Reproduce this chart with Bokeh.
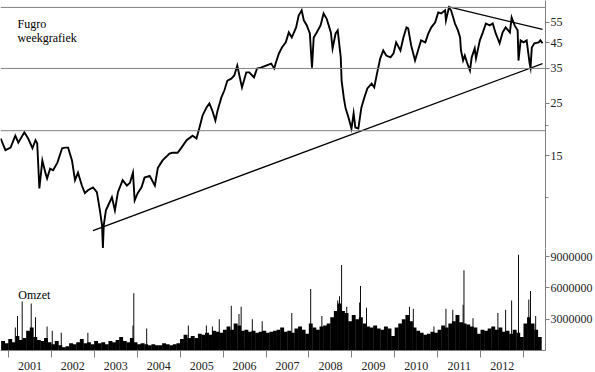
from bokeh.plotting import figure
from bokeh.layouts import column
from bokeh.models import Range1d, FixedTicker, Span, Label, PrintfTickFormatter, CustomJSTickFormatter
from bokeh.embed import file_html
from bokeh.resources import INLINE

# ---- data ----
price_t = [2000.82, 2000.93, 2001.05, 2001.16, 2001.23, 2001.37, 2001.46, 2001.56, 2001.63, 2001.67,
           2001.72, 2001.79, 2001.86, 2001.90, 2001.97, 2002.04, 2002.14, 2002.25, 2002.32, 2002.39,
           2002.48, 2002.55, 2002.62, 2002.71, 2002.78, 2002.85, 2002.97, 2003.06, 2003.13, 2003.18,
           2003.20, 2003.22, 2003.27, 2003.32, 2003.41, 2003.48, 2003.55, 2003.66, 2003.76, 2003.83,
           2003.90, 2003.94, 2004.01, 2004.10, 2004.17, 2004.29, 2004.41, 2004.48, 2004.59, 2004.75,
           2004.82, 2004.94, 2005.03, 2005.15, 2005.29, 2005.38, 2005.45, 2005.52, 2005.61, 2005.68,
           2005.75, 2005.82, 2005.87, 2005.96, 2006.03, 2006.10, 2006.19, 2006.26, 2006.33, 2006.42,
           2006.44, 2006.54, 2006.61, 2006.72, 2006.79, 2006.88, 2007.00, 2007.12, 2007.19, 2007.23,
           2007.30, 2007.37, 2007.46, 2007.53, 2007.60, 2007.70, 2007.76, 2007.83, 2007.88, 2007.95,
           2008.02, 2008.07, 2008.11, 2008.18, 2008.27, 2008.34, 2008.41, 2008.51, 2008.55, 2008.62,
           2008.67, 2008.74, 2008.76, 2008.81, 2008.85, 2008.92, 2008.99, 2009.04, 2009.08, 2009.15,
           2009.22, 2009.29, 2009.36, 2009.46, 2009.52, 2009.59, 2009.66, 2009.73, 2009.80, 2009.90,
           2009.97, 2010.03, 2010.13, 2010.20, 2010.27, 2010.31, 2010.38, 2010.47, 2010.54, 2010.61,
           2010.71, 2010.78, 2010.85, 2010.94, 2011.01, 2011.08, 2011.17, 2011.19, 2011.26, 2011.31,
           2011.40, 2011.47, 2011.52, 2011.54, 2011.59, 2011.63, 2011.68, 2011.75, 2011.79, 2011.86,
           2011.89, 2011.98, 2012.05, 2012.12, 2012.21, 2012.28, 2012.35, 2012.44, 2012.51, 2012.58,
           2012.68, 2012.72, 2012.79, 2012.86, 2012.88, 2012.93, 2013.00, 2013.07, 2013.14, 2013.16,
           2013.19, 2013.25, 2013.35, 2013.39, 2013.44]
price = [17.7, 15.8, 16.2, 18.2, 17.0, 18.8, 17.7, 16.1, 17.4, 16.9,
         10.9, 14.3, 12.7, 12.0, 13.2, 13.0, 14.0, 16.1, 16.2, 16.2,
         14.3, 11.8, 12.7, 11.2, 10.4, 10.7, 11.0, 10.5, 8.8, 7.6,
         6.1, 7.6, 8.8, 9.2, 10.0, 8.8, 10.5, 11.8, 11.2, 11.5,
         12.7, 9.7, 10.4, 11.0, 12.1, 12.3, 11.2, 13.3, 14.3, 15.3,
         15.4, 15.4, 16.2, 17.4, 18.2, 17.7, 19.7, 22.1, 23.9, 24.9,
         23.2, 21.1, 23.2, 26.4, 28.3, 31.1, 31.7, 32.7, 36.0, 30.2,
         29.1, 33.7, 33.7, 32.1, 35.0, 35.3, 36.0, 36.7, 35.0, 37.1,
         40.5, 42.9, 45.1, 49.7, 47.3, 52.2, 58.6, 61.6, 55.9, 53.2,
         49.2, 35.3, 47.3, 49.7, 53.2, 59.8, 56.9, 49.7, 42.5, 49.2,
         50.7, 39.0, 31.1, 26.4, 23.9, 21.7, 19.5, 22.6, 19.7, 19.5,
         23.9, 26.4, 28.8, 30.2, 29.1, 33.7, 38.6, 41.7, 39.7, 39.0,
         40.5, 45.1, 41.7, 47.3, 52.2, 51.7, 43.8, 37.8, 41.7, 46.0,
         45.1, 49.2, 52.2, 54.8, 60.4, 59.8, 61.6, 55.9, 63.4, 61.6,
         54.2, 50.7, 47.3, 41.7, 37.8, 39.7, 37.1, 34.3, 39.0, 42.5,
         38.6, 46.0, 49.7, 54.2, 53.2, 54.2, 49.2, 44.7, 49.7, 52.2,
         49.7, 57.5, 53.2, 50.7, 37.8, 46.0, 45.1, 46.0, 36.7, 35.3,
         42.9, 44.7, 45.1, 46.0, 44.7]

# horizontal support / resistance levels
levels = [63.4, 35.0, 19.1]
# trend lines (start, end)
support_t = [2002.97, 2013.44]
support_p = [7.23, 36.7]
resist_t = [2011.26, 2013.44]
resist_p = [63.7, 51.2]

# monthly volume (millions), Nov 2000 .. May 2013
vol_months = [(2000, [0, 0, 0, 0, 0, 0, 0, 0, 0, 0, 0.9, 0.7]),
              (2001, [1.1, 0.8, 1.4, 1.0, 1.2, 1.9, 2.2, 1.3, 1.0, 0.9, 1.2, 0.8]),
              (2002, [0.6, 0.9, 0.5, 0.3, 0.4, 0.7, 0.6, 0.8, 1.1, 0.7, 0.8, 0.6]),
              (2003, [0.9, 0.7, 0.8, 0.6, 0.9, 0.8, 1.0, 1.3, 0.9, 0.8, 1.2, 0.8]),
              (2004, [0.6, 0.7, 0.6, 0.5, 0.6, 0.5, 0.5, 0.7, 0.6, 0.5, 0.6, 0.7]),
              (2005, [1.1, 1.5, 1.2, 1.4, 1.2, 1.6, 1.5, 1.7, 1.5, 1.9, 1.8, 1.7]),
              (2006, [2.0, 2.3, 2.0, 2.6, 2.4, 1.9, 2.0, 1.8, 1.9, 1.7, 1.8, 1.9]),
              (2007, [1.7, 1.8, 1.9, 2.0, 2.2, 1.8, 1.9, 1.7, 2.1, 2.3, 2.0, 1.6]),
              (2008, [2.6, 2.2, 2.0, 2.3, 2.4, 2.6, 3.2, 3.8, 4.5, 3.8, 3.6, 2.8]),
              (2009, [3.4, 3.0, 3.2, 2.6, 2.3, 2.2, 2.4, 2.1, 2.0, 2.3, 2.1, 1.4]),
              (2010, [2.2, 2.6, 3.0, 3.4, 2.8, 2.2, 1.9, 1.7, 1.5, 1.6, 1.8, 1.7]),
              (2011, [2.0, 2.4, 2.2, 2.6, 2.8, 3.4, 2.7, 2.6, 2.5, 2.3, 2.2, 1.6]),
              (2012, [2.0, 1.9, 2.1, 2.3, 2.0, 2.2, 1.8, 1.9, 1.6, 2.0, 1.7, 1.3]),
              (2013, [2.6, 3.2, 2.6, 2.0, 1.3, 0, 0, 0, 0, 0, 0, 0])]

# single high-volume weeks (millions)
peak_t = [2001.16, 2001.21, 2001.32, 2001.53, 2001.63, 2001.90, 2002.02, 2002.23, 2002.85, 2003.90,
          2003.92, 2004.22, 2005.19, 2005.61, 2005.75, 2005.91, 2006.19, 2006.37, 2006.42, 2006.68,
          2006.91, 2007.60, 2008.04, 2008.30, 2008.67, 2008.71, 2008.76, 2008.88, 2009.18, 2009.20,
          2009.34, 2010.34, 2010.43, 2010.91, 2011.19, 2011.35, 2011.59, 2011.61, 2011.82, 2012.40,
          2012.58, 2012.72, 2012.88, 2013.12, 2013.16, 2013.28]
peak_vol = [2.2, 3.3, 4.7, 4.5, 3.2, 2.3, 1.9, 1.7, 1.7, 2.4,
            5.5, 2.1, 2.4, 2.4, 2.3, 3.0, 4.3, 3.5, 4.2, 3.0,
            2.8, 3.6, 5.9, 3.3, 4.8, 5.2, 8.2, 4.2, 4.6, 6.2,
            4.1, 4.2, 4.0, 2.3, 4.0, 3.9, 4.4, 7.7, 3.1, 3.6,
            3.9, 4.8, 9.2, 4.9, 5.7, 3.3]

years = list(range(2001, 2013))
price_ticks = [15, 25, 35, 45, 55]
vol_ticks = [3000000, 6000000, 9000000]

FONT = "Liberation Serif"
AXIS_COLOR = "#808080"

vol_t, vol = [], []
for yr, vals in vol_months:
    for m, v in enumerate(vals):
        if v > 0:
            vol_t.append(yr + (m + 0.5) / 12.0)
            vol.append(v * 1e6)

x_range = Range1d(2000.815, 2013.509)

# ---- price panel ----
p1 = figure(width=595, height=248, x_range=x_range, y_range=Range1d(6.07, 67.8),
            y_axis_type="log", y_axis_location="right", x_axis_location=None,
            toolbar_location=None, output_backend="svg",
            min_border_left=0, min_border_right=47, min_border_top=0, min_border_bottom=0)
p1.outline_line_color = None
p1.xgrid.visible = False
p1.ygrid.visible = False
p1.background_fill_color = "white"

for lv in levels:
    p1.add_layout(Span(location=lv, dimension="width", line_color=AXIS_COLOR, line_width=1))

p1.line(support_t, support_p, line_color="black", line_width=1.3)
p1.line(resist_t, resist_p, line_color="black", line_width=1.3)
p1.line(price_t, price, line_color="black", line_width=1.9, line_join="miter")

ax = p1.yaxis[0]
ax.ticker = FixedTicker(ticks=price_ticks, minor_ticks=[10, 20])
ax.formatter = PrintfTickFormatter(format="%d")
ax.axis_line_color = AXIS_COLOR
ax.major_tick_line_color = AXIS_COLOR
ax.minor_tick_line_color = AXIS_COLOR
ax.major_tick_in = 0
ax.major_tick_out = 4
ax.minor_tick_in = 0
ax.minor_tick_out = 3
ax.major_label_standoff = 1
ax.major_label_text_font = FONT
ax.major_label_text_font_size = "12px"
ax.major_label_text_color = "#222222"

p1.add_layout(Label(x=2001.21, y=53.7, text="Fugro", text_font=FONT,
                    text_font_size="12px", text_color="black", text_baseline="alphabetic"))
p1.add_layout(Label(x=2001.21, y=46.9, text="weekgrafiek", text_font=FONT,
                    text_font_size="12px", text_color="black", text_baseline="alphabetic"))

# ---- volume panel ----
p2 = figure(width=595, height=124, x_range=x_range, y_range=Range1d(0, 9.79e6),
            y_axis_location="right", toolbar_location=None, output_backend="svg",
            min_border_left=0, min_border_right=47, min_border_top=0, min_border_bottom=18)
p2.outline_line_color = None
p2.xgrid.visible = False
p2.ygrid.visible = False

p2.vbar(x=vol_t, top=vol, width=1 / 11.0, bottom=0, fill_color="black", line_color=None)
p2.vbar(x=peak_t, top=[v * 1e6 for v in peak_vol], width=1 / 45.0, bottom=0,
        fill_color="black", line_color=None)

vax = p2.yaxis[0]
vax.ticker = FixedTicker(ticks=vol_ticks)
vax.formatter = PrintfTickFormatter(format="%d")
vax.axis_line_color = AXIS_COLOR
vax.major_tick_line_color = AXIS_COLOR
vax.major_tick_in = 0
vax.major_tick_out = 4
vax.minor_tick_line_color = None
vax.major_label_standoff = 1
vax.major_label_text_font = FONT
vax.major_label_text_font_size = "12px"
vax.major_label_text_color = "#222222"

xax = p2.xaxis[0]
xax.ticker = FixedTicker(ticks=[y + 0.5 for y in years], minor_ticks=list(range(2001, 2014)))
xax.formatter = CustomJSTickFormatter(code="return Math.floor(tick).toString();")
xax.axis_line_color = AXIS_COLOR
xax.major_tick_line_color = None
xax.major_tick_in = 0
xax.major_tick_out = 0
xax.minor_tick_line_color = AXIS_COLOR
xax.minor_tick_in = 0
xax.minor_tick_out = 7
xax.major_label_standoff = 4
xax.major_label_text_font = FONT
xax.major_label_text_font_size = "12px"
xax.major_label_text_color = "#222222"

p2.add_layout(Label(x=2001.23, y=5.28e6, text="Omzet", text_font=FONT,
                    text_font_size="12px", text_color="black", text_baseline="alphabetic"))

layout = column(p1, p2, spacing=0)
open("out.html", "w").write(file_html(layout, INLINE))
